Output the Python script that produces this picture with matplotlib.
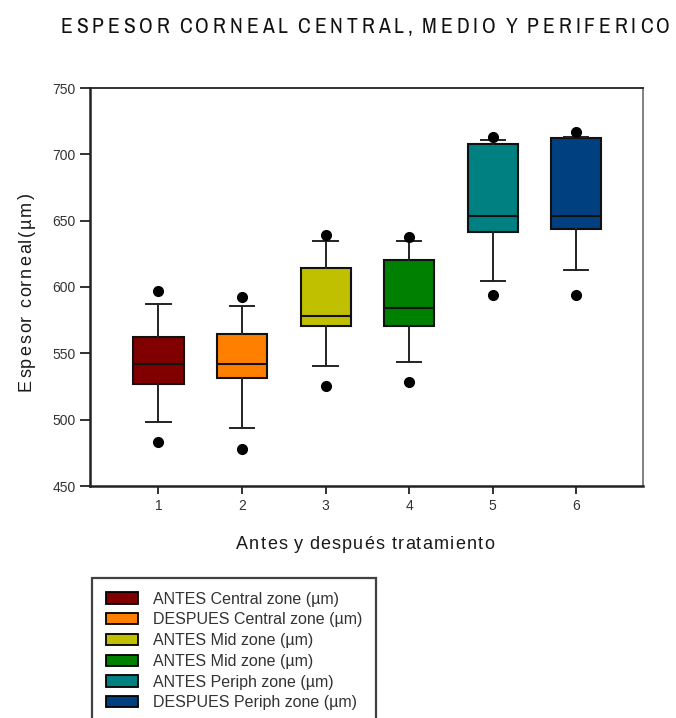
import matplotlib
matplotlib.use("Agg")
import matplotlib.pyplot as plt
from matplotlib.patches import Patch

plt.rcParams['font.family'] = ['Liberation Sans', 'DejaVu Sans']

# box statistics per group (µm)
grupos = [1, 2, 3, 4, 5, 6]
whislo = [498.5, 494.0, 540.8, 543.8, 604.5, 612.6]
q1 = [526.6, 531.4, 570.4, 570.4, 641.7, 643.5]
med = [542.2, 542.2, 578.5, 584.5, 653.3, 653.3]
q3 = [562.6, 564.3, 614.1, 620.4, 707.8, 712.3]
whishi = [587.4, 585.9, 634.4, 634.4, 710.8, 713.3]
out_lo = [483.0, 478.2, 525.1, 528.2, 594.0, 594.0]
out_hi = [597.0, 592.2, 639.2, 638.0, 713.3, 717.2]

colores = ['#800000', '#ff8000', '#c0c000', '#008000', '#008080', '#004080']
etiquetas = ['ANTES Central zone (µm)', 'DESPUES Central zone (µm)',
             'ANTES Mid zone (µm)', 'ANTES Mid zone (µm)',
             'ANTES Periph zone (µm)', 'DESPUES Periph zone (µm)']
titulo = 'ESPESOR CORNEAL CENTRAL, MEDIO Y PERIFERICO'
xlab = 'Antes y después tratamiento'
ylab = 'Espesor corneal(µm)'

W, H = 676, 718
fig = plt.figure(figsize=(W / 100, H / 100), dpi=100)
ax = fig.add_axes([90 / W, 1 - 486 / H, 553 / W, 398 / H])
renderer = fig.canvas.get_renderer()


def texto_espaciado(s, cx, cy, ancho, sp, rot=0, **kw):
    # letter-spaced text of total length `ancho` px centred at (cx, cy);
    # rot=90 runs bottom to top
    partes = []
    for ch in s:
        if ch == ' ':
            partes.append((None, sp))
            continue
        t = fig.text(0, 0, ch, rotation=rot, rotation_mode='anchor',
                     ha='left', va='baseline', **kw)
        e = t.get_window_extent(renderer)
        partes.append((t, e.height if rot else e.width))
    track = (ancho - sum(a for _, a in partes)) / (len(partes) - 1)
    p = -ancho / 2
    for t, a in partes:
        if t is not None:
            if rot:
                t.set_position((cx / W, 1 - (cy - p) / H))
            else:
                t.set_position(((cx + p) / W, 1 - cy / H))
        p += a + track


stats = []
for i in range(len(grupos)):
    stats.append(dict(whislo=whislo[i], q1=q1[i], med=med[i], q3=q3[i],
                      whishi=whishi[i], fliers=[out_lo[i], out_hi[i]]))

bp = ax.bxp(stats, positions=grupos, widths=0.6, capwidths=0.29,
            patch_artist=True, showfliers=True,
            boxprops=dict(edgecolor='#111111', linewidth=1.5),
            medianprops=dict(color='#111111', linewidth=1.5),
            whiskerprops=dict(color='#222222', linewidth=1.4),
            capprops=dict(color='#222222', linewidth=1.4),
            flierprops=dict(marker='o', markerfacecolor='black',
                            markeredgecolor='black', markersize=7))
for caja, c in zip(bp['boxes'], colores):
    caja.set_facecolor(c)

ax.set_xlim(0.18, 6.8)
ax.set_ylim(450, 750)
ax.set_yticks(range(450, 751, 50))
ax.set_xticks(grupos)
ax.tick_params(direction='out', length=6, width=1.3, labelsize=10,
               labelcolor='#333333', color='#222222')
ax.tick_params(axis='y', length=7)
for s in ['left', 'bottom']:
    ax.spines[s].set_linewidth(1.8)
    ax.spines[s].set_color('#222222')
ax.spines['top'].set_linewidth(1.3)
ax.spines['top'].set_color('#222222')
ax.spines['right'].set_linewidth(1.3)
ax.spines['right'].set_color('#777777')

texto_espaciado(titulo, 365, 33, 610, 2, fontsize=15.5, color='#111111',
                family=['Archivo Narrow', 'Liberation Sans'])
texto_espaciado(xlab, 365, 549, 258, 4, fontsize=13, color='#1a1a1a')
texto_espaciado(ylab, 31, 292, 198, 4, rot=90, fontsize=13, color='#1a1a1a')

manejadores = [Patch(facecolor=c, edgecolor='black', linewidth=1.3) for c in colores]
leg = fig.legend(manejadores, etiquetas, loc='upper left',
                 bbox_to_anchor=(92 / W, 1 - 578 / H), fontsize=11.5,
                 frameon=True, fancybox=False, handlelength=2.0,
                 handleheight=0.7, labelspacing=0.36, handletextpad=1.0,
                 borderpad=0.85, borderaxespad=0)
leg.get_frame().set_edgecolor('#111111')
leg.get_frame().set_linewidth(1.6)
for t in leg.get_texts():
    t.set_color('#333333')

fig.savefig('out.png', dpi=100)
